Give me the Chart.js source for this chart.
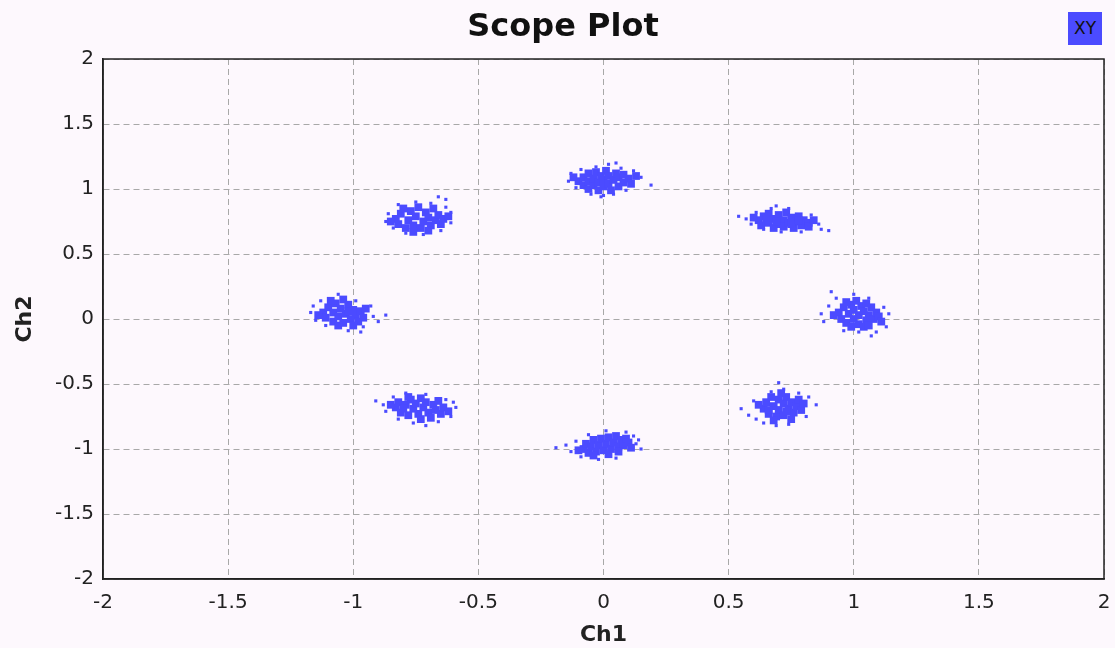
<!DOCTYPE html>
<html>
<head>
<meta charset="utf-8">
<script src="https://cdn.jsdelivr.net/npm/chart.js@4"></script>
<style>
  html, body { margin: 0; padding: 0; background: #fdf8fd; }
  #wrap { position: relative; width: 1115px; height: 648px; }
  #legendXY {
    position: absolute; left: 1068px; top: 12px; width: 34px; height: 33px;
    background: #4b4bff; color: #111; font: 17px "DejaVu Sans", sans-serif;
    line-height: 33px; text-align: center;
  }
</style>
</head>
<body>
<div id="wrap">
  <canvas id="scope" width="1115" height="648"></canvas>
  <div id="legendXY">XY</div>
</div>
<script>
// tick settings
const axisMin = -2;
const axisMax = 2;
const axisStep = 0.5;

// dense centre of each constellation cluster
const coreA = [[-0.10,1.06],[-0.08,1.03],[-0.08,1.09],[-0.06,1.00],[-0.06,1.06],[-0.06,1.12],[-0.04,1.03],[-0.04,1.08],[-0.03,1.13],[-0.02,0.99],[-0.02,1.05],[-0.01,1.10],[0.00,1.02],[0.00,1.07],[0.01,1.14],[0.02,1.04],[0.02,1.10],[0.03,0.99],[0.04,1.07],[0.05,1.12],[0.06,1.02],[0.06,1.09],[0.08,1.05],[0.08,1.11],[0.10,1.08],[0.11,1.04],[-0.12,1.09],[0.13,1.10]];
const coreB = [[0.62,0.76],[0.63,0.72],[0.64,0.79],[0.66,0.74],[0.66,0.81],[0.68,0.70],[0.68,0.77],[0.70,0.73],[0.70,0.80],[0.72,0.76],[0.72,0.71],[0.73,0.82],[0.74,0.74],[0.75,0.78],[0.76,0.70],[0.77,0.75],[0.78,0.79],[0.79,0.72],[0.80,0.76],[0.82,0.74],[0.82,0.71],[0.65,0.77],[0.69,0.75],[0.75,0.73],[0.78,0.76],[0.60,0.78],[0.84,0.76]];
const coreC = [[0.94,0.05],[0.95,0.00],[0.96,0.09],[0.97,-0.03],[0.98,0.04],[0.99,0.11],[1.00,0.00],[1.00,0.07],[1.02,-0.04],[1.02,0.03],[1.03,0.10],[1.04,0.06],[1.05,-0.01],[1.06,0.03],[1.07,0.09],[1.08,0.00],[1.09,0.05],[1.10,0.02],[0.97,0.13],[1.01,0.14],[1.05,0.12],[1.04,-0.06],[0.99,-0.06],[1.06,-0.05],[0.92,0.03],[1.11,-0.02]];
const coreD = [[0.64,-0.69],[0.65,-0.64],[0.66,-0.73],[0.67,-0.60],[0.68,-0.67],[0.69,-0.75],[0.70,-0.62],[0.70,-0.70],[0.72,-0.65],[0.72,-0.74],[0.73,-0.60],[0.74,-0.69],[0.75,-0.64],[0.76,-0.72],[0.77,-0.67],[0.78,-0.62],[0.79,-0.70],[0.68,-0.78],[0.71,-0.57],[0.75,-0.77],[0.62,-0.66],[0.80,-0.65],[0.66,-0.70],[0.73,-0.71]];
const coreE = [[-0.08,-1.00],[-0.07,-0.96],[-0.06,-1.03],[-0.05,-0.98],[-0.04,-0.93],[-0.03,-1.02],[-0.02,-0.97],[-0.01,-0.92],[0.00,-1.01],[0.01,-0.96],[0.02,-0.91],[0.03,-1.00],[0.04,-0.95],[0.05,-0.90],[0.06,-0.98],[0.07,-0.93],[0.08,-0.97],[0.09,-0.92],[0.10,-0.95],[-0.04,-1.05],[0.02,-1.04],[0.11,-0.99],[-0.10,-1.01],[0.06,-1.02]];
const coreF = [[-0.83,-0.68],[-0.82,-0.64],[-0.81,-0.72],[-0.79,-0.66],[-0.78,-0.74],[-0.77,-0.62],[-0.76,-0.69],[-0.75,-0.65],[-0.74,-0.73],[-0.73,-0.61],[-0.72,-0.68],[-0.71,-0.64],[-0.70,-0.72],[-0.69,-0.76],[-0.68,-0.66],[-0.67,-0.70],[-0.66,-0.63],[-0.65,-0.73],[-0.64,-0.68],[-0.62,-0.71],[-0.80,-0.69],[-0.73,-0.77],[-0.85,-0.66],[-0.78,-0.60]];
const coreG = [[-1.12,0.05],[-1.11,0.01],[-1.10,0.09],[-1.08,-0.02],[-1.08,0.05],[-1.07,0.12],[-1.06,0.02],[-1.05,0.08],[-1.04,-0.03],[-1.03,0.04],[-1.02,0.11],[-1.01,0.00],[-1.00,0.07],[-0.99,0.03],[-0.98,-0.02],[-0.97,0.06],[-0.96,0.01],[-1.09,0.14],[-1.04,0.15],[-1.06,-0.05],[-1.00,-0.05],[-1.14,0.03],[-0.95,0.08],[-1.02,0.06]];
const coreH = [[-0.83,0.77],[-0.82,0.73],[-0.81,0.81],[-0.79,0.70],[-0.78,0.76],[-0.77,0.83],[-0.76,0.72],[-0.75,0.79],[-0.74,0.86],[-0.73,0.70],[-0.72,0.75],[-0.71,0.82],[-0.70,0.78],[-0.69,0.72],[-0.68,0.85],[-0.67,0.76],[-0.66,0.80],[-0.65,0.73],[-0.64,0.77],[-0.80,0.85],[-0.76,0.67],[-0.70,0.68],[-0.85,0.75],[-0.62,0.79]];

// loose samples around each cluster
const looseA = [[-0.14,1.06],[-0.13,1.12],[-0.11,1.01],[-0.09,1.15],[-0.05,0.96],[-0.03,1.17],[0.00,0.95],[0.02,1.19],[0.04,0.96],[0.07,1.16],[0.09,0.99],[0.12,1.14],[0.15,1.09],[0.19,1.03],[-0.01,0.94],[0.05,1.20]];
const looseB = [[0.54,0.79],[0.57,0.77],[0.59,0.73],[0.61,0.82],[0.64,0.69],[0.67,0.85],[0.71,0.67],[0.74,0.85],[0.79,0.67],[0.83,0.80],[0.86,0.73],[0.87,0.69],[0.90,0.68],[0.69,0.87]];
const looseC = [[0.87,0.04],[0.88,-0.02],[0.90,0.10],[0.93,0.16],[0.96,-0.09],[1.00,0.19],[1.02,-0.10],[1.06,0.16],[1.09,-0.10],[1.12,0.09],[1.14,0.04],[1.13,-0.06],[0.91,0.21],[1.07,-0.13]];
const looseD = [[0.55,-0.69],[0.58,-0.74],[0.60,-0.63],[0.61,-0.77],[0.64,-0.80],[0.67,-0.56],[0.69,-0.82],[0.70,-0.49],[0.72,-0.54],[0.74,-0.81],[0.78,-0.57],[0.82,-0.60],[0.85,-0.66],[0.81,-0.75]];
const looseE = [[-0.19,-0.99],[-0.15,-0.97],[-0.13,-1.02],[-0.11,-0.94],[-0.09,-1.06],[-0.06,-0.89],[-0.02,-1.08],[0.01,-0.86],[0.05,-1.07],[0.09,-0.87],[0.12,-0.90],[0.13,-0.96],[0.15,-1.00],[0.14,-0.93]];
const looseF = [[-0.91,-0.63],[-0.88,-0.66],[-0.87,-0.71],[-0.84,-0.60],[-0.82,-0.77],[-0.79,-0.57],[-0.76,-0.80],[-0.71,-0.58],[-0.71,-0.82],[-0.66,-0.79],[-0.63,-0.62],[-0.61,-0.75],[-0.59,-0.68],[-0.60,-0.64]];
const looseG = [[-1.17,0.05],[-1.16,0.10],[-1.15,-0.01],[-1.13,0.14],[-1.11,-0.05],[-1.06,0.19],[-1.02,-0.09],[-0.99,0.14],[-0.96,-0.06],[-0.93,0.10],[-0.92,0.02],[-0.90,-0.02],[-0.87,0.03],[-0.97,-0.10]];
const looseH = [[-0.87,0.75],[-0.86,0.81],[-0.84,0.70],[-0.82,0.88],[-0.79,0.66],[-0.75,0.90],[-0.72,0.65],[-0.69,0.89],[-0.65,0.68],[-0.63,0.86],[-0.61,0.74],[-0.61,0.82],[-0.63,0.92],[-0.66,0.94]];

const toXY = arr => arr.map(p => ({ x: p[0], y: p[1] }));
const corePoints = [coreA, coreB, coreC, coreD, coreE, coreF, coreG, coreH].flatMap(toXY);
const loosePoints = [looseA, looseB, looseC, looseD, looseE, looseF, looseG, looseH].flatMap(toXY);

const dotColor = '#4b4bff';
const tickFont = { family: 'DejaVu Sans', size: 20 };
const titleFont = { family: 'DejaVu Sans', size: 22, weight: 'bold' };

function axis(title, vertical) {
    return {
        type: 'linear',
        min: axisMin,
        max: axisMax,
        ticks: {
            stepSize: axisStep,
            color: '#222',
            font: tickFont,
            padding: vertical ? 9 : 12,
            callback: v => String(v)
        },
        grid: { color: '#a8a8a8', drawTicks: false, lineWidth: 1 },
        border: { display: true, color: '#222', width: 1.5, dash: [6, 4] },
        title: {
            display: true, text: title, color: '#222', font: titleFont,
            padding: vertical ? { top: -10, bottom: 0 } : { top: 0, bottom: 0 }
        },
        afterFit: s => {
            if (vertical) s.width = 81; else s.height = 69;
            s.paddingLeft = 0;
            s.paddingRight = 0;
        }
    };
}

// solid frame on top of the dashed grid
const frame = {
    id: 'frame',
    beforeDatasetsDraw(chart) {
        const { ctx, chartArea: a } = chart;
        ctx.save();
        ctx.strokeStyle = '#222';
        ctx.lineWidth = 1.5;
        ctx.strokeRect(a.left, a.top, a.right - a.left, a.bottom - a.top);
        ctx.restore();
    }
};

new Chart(document.getElementById('scope'), {
    type: 'scatter',
    data: {
        datasets: [
            { label: 'XY', data: corePoints, pointStyle: 'rect', pointRadius: 5.5, borderWidth: 0, backgroundColor: dotColor },
            { label: 'XY', data: loosePoints, pointStyle: 'rect', pointRadius: 2.2, borderWidth: 0, backgroundColor: dotColor }
        ]
    },
    options: {
        responsive: false,
        animation: false,
        layout: { padding: { left: 22, right: 11, top: 0, bottom: 0 } },
        scales: {
            x: axis('Ch1', false),
            y: axis('Ch2', true)
        },
        plugins: {
            legend: { display: false },
            tooltip: { enabled: false },
            title: {
                display: true,
                text: 'Scope Plot',
                color: '#111',
                font: { family: 'DejaVu Sans', size: 32, weight: 'bold' },
                padding: { top: 8, bottom: 12.6 }
            }
        }
    },
    plugins: [frame]
});
</script>
</body>
</html>
